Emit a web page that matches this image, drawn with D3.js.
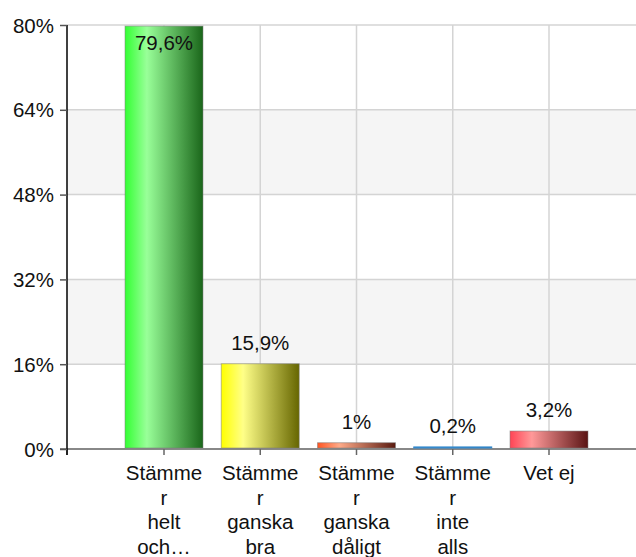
<!DOCTYPE html>
<html><head><meta charset="utf-8">
<script src="https://cdn.jsdelivr.net/npm/d3@7"></script>
<style>body{margin:0;background:#fff}svg{display:block}text{font-family:"Liberation Sans",Arial,sans-serif}</style>
</head><body>
<script>
const categories = ["Stämmer helt och hållet","Stämmer ganska bra","Stämmer ganska dåligt","Stämmer inte alls","Vet ej"];
const tickLines = [["Stämme","r","helt","och…"],["Stämme","r","ganska","bra"],["Stämme","r","ganska","dåligt"],["Stämme","r","inte","alls"],["Vet ej"]];
const values = [79.6, 15.9, 1, 0.2, 3.2];
const valueLabels = ["79,6%","15,9%","1%","0,2%","3,2%"];
const yTicks = [0,16,32,48,64,80];
const gradients = [
  ["#33ff33","#99ff99","#1a661a"],
  ["#ffff00","#ffff88","#666600"],
  ["#ff5522","#ffaa88","#5a1a10"],
  ["#3388cc","#66aadd","#1a4466"],
  ["#ff4455","#ff9999","#5a1414"]
];

const W = 636, H = 557;
const FS = "20.5px";
const svg = d3.select("body").append("svg").attr("width",W).attr("height",H);
const x0 = 67, yTop = 25, yBot = 449;
const y = d3.scaleLinear().domain([0,80]).range([yBot,yTop]);
const x = d3.scalePoint().domain(categories).range([164,549]);
const step = x.step();
const bw = step*0.81;

const defs = svg.append("defs");
gradients.forEach((g,i)=>{
  const lg = defs.append("linearGradient").attr("id","g"+i).attr("x1","0").attr("x2","1").attr("y1","0").attr("y2","0");
  lg.append("stop").attr("offset","0").attr("stop-color",g[0]);
  lg.append("stop").attr("offset","0.28").attr("stop-color",g[1]);
  lg.append("stop").attr("offset","1").attr("stop-color",g[2]);
});

// shaded bands
for (let i=0;i<yTicks.length-1;i++){
  if (i%2===1){
    svg.append("rect").attr("x",x0).attr("y",y(yTicks[i+1])).attr("width",W-x0).attr("height",y(yTicks[i])-y(yTicks[i+1])).attr("fill","#f5f5f5");
  }
}
// horizontal grid
svg.selectAll(".hg").data(yTicks.slice(1)).enter().append("line")
  .attr("x1",x0).attr("x2",W).attr("y1",d=>y(d)).attr("y2",d=>y(d))
  .attr("stroke","#d4d4d4").attr("stroke-width",1.5);
// vertical grid
svg.selectAll(".vg").data(categories).enter().append("line")
  .attr("x1",d=>x(d)).attr("x2",d=>x(d)).attr("y1",yTop).attr("y2",yBot)
  .attr("stroke","#d4d4d4").attr("stroke-width",1.5);

// x axis
svg.append("line").attr("x1",60).attr("x2",W).attr("y1",yBot).attr("y2",yBot).attr("stroke","#888").attr("stroke-width",2);
const xt = [x0].concat(categories.map(c=>x(c)));
svg.selectAll(".xt").data(xt).enter().append("line")
  .attr("x1",d=>d).attr("x2",d=>d).attr("y1",yBot).attr("y2",yBot+6)
  .attr("stroke","#666").attr("stroke-width",1.5);

// bars
svg.selectAll(".bar").data(values).enter().append("rect")
  .attr("x",(d,i)=>x(categories[i])-bw/2).attr("width",bw)
  .attr("y",d=>y(d)-1).attr("height",d=>yBot-y(d))
  .attr("fill",(d,i)=>"url(#g"+i+")")
  .attr("stroke",(d,i)=> d < 0.5 ? gradients[i][0] : "rgba(120,120,120,0.5)").attr("stroke-width",1);

// value labels
svg.selectAll(".vl").data(values).enter().append("text")
  .attr("x",(d,i)=>x(categories[i]))
  .attr("y",d=> y(d)-15 < yTop+8 ? y(d)+23 : y(d)-15)
  .attr("text-anchor","middle").attr("font-size",FS).attr("fill","#111")
  .text((d,i)=>valueLabels[i]);

// y axis
const yAxis = d3.axisLeft(y).tickValues(yTicks).tickSize(7).tickFormat(d=>d+"%");
const ga = svg.append("g").attr("transform",`translate(${x0},0)`).call(yAxis);
ga.select(".domain").attr("stroke","#000").attr("stroke-width",1.5).attr("d",`M0,${yTop}V${yBot+6}`);
ga.selectAll(".tick line").attr("stroke","#555").attr("stroke-width",1.5);
ga.selectAll(".tick text").attr("font-size",FS).attr("fill","#111").attr("x",-13).attr("dy","0.35em")
  .attr("font-family","Liberation Sans, Arial, sans-serif");

// category labels
const cl = svg.selectAll(".cl").data(categories).enter().append("text")
  .attr("text-anchor","middle").attr("font-size",FS).attr("fill","#111")
  .attr("transform",d=>`translate(${x(d)},0)`);
cl.each(function(d,i){
  const t = d3.select(this);
  tickLines[i].forEach((ln,j)=>{
    t.append("tspan").attr("x",0).attr("y",480+j*24.5).text(ln);
  });
});
</script>
</body></html>
